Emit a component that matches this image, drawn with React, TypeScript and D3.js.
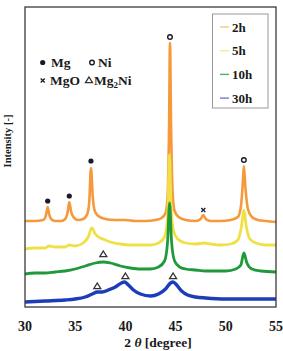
import React from "react";
import * as d3 from "d3";

// 2θ [degree] and relative intensity (with vertical offsets)
const orange2h: [number, number][] = [
  [30, 86], [31, 86], [31.8, 87], [32.0, 89], [32.15, 95], [32.26, 100], [32.4, 93], [32.6, 88],
  [33, 86], [33.6, 86], [34.0, 88], [34.25, 95], [34.41, 105], [34.6, 95], [34.9, 89], [35.3, 87],
  [35.8, 88], [36.2, 93], [36.4, 105], [36.57, 139], [36.75, 110], [36.95, 96], [37.3, 91], [38, 88],
  [39, 87], [40, 87], [41, 86], [42, 86], [43, 87], [43.6, 89], [44.0, 94], [44.2, 110], [44.35, 180],
  [44.44, 264], [44.55, 180], [44.7, 115], [44.9, 96], [45.3, 90], [46, 87], [47, 86], [47.5, 88],
  [47.76, 92], [48.0, 88], [48.5, 86], [49.5, 86], [50.5, 87], [51.2, 90], [51.5, 100], [51.7, 125],
  [51.8, 141], [51.95, 120], [52.2, 98], [52.6, 90], [53.2, 87], [54, 86], [55, 85],
];
const yellow5h: [number, number][] = [
  [30, 58], [31, 59], [32, 59], [32.4, 61], [33, 60], [34, 60], [34.4, 62], [35, 61], [35.8, 64],
  [36.3, 70], [36.65, 79], [37, 73], [37.5, 69], [38.0, 67], [38.5, 65], [39.5, 63], [40.5, 62],
  [41.5, 62], [42.5, 62], [43.3, 64], [43.9, 70], [44.2, 90], [44.4, 152], [44.55, 100], [44.8, 76],
  [45.2, 68], [46, 64], [47, 63], [47.8, 64], [48.5, 63], [49.5, 62], [50.5, 63], [51.2, 67],
  [51.55, 80], [51.8, 97], [52.05, 80], [52.4, 68], [53, 64], [54, 62], [55, 62],
];
const green10h: [number, number][] = [
  [30, 33], [31, 34], [32, 34], [33, 35], [34, 36], [35, 38], [36, 41], [37, 44], [37.8, 45],
  [38.5, 44], [39.5, 41], [40.5, 39], [41.5, 38], [42.5, 38], [43.3, 40], [43.9, 46], [44.2, 65],
  [44.4, 104], [44.6, 65], [44.9, 46], [45.4, 40], [46, 38], [47, 37], [48, 36], [49, 36], [50, 36],
  [51, 38], [51.5, 42], [51.8, 54], [52.1, 44], [52.6, 38], [53.5, 36], [55, 35],
];
const blue30h: [number, number][] = [
  [30, 5], [32, 6], [34, 7], [35, 8], [36, 10], [36.7, 13], [37.2, 15], [37.7, 15], [38.3, 17],
  [39.0, 20], [39.6, 24], [39.9, 25], [40.3, 22], [40.8, 17], [41.5, 13], [42.5, 11], [43.3, 13],
  [44.0, 18], [44.5, 24], [44.75, 25], [45.1, 22], [45.6, 16], [46.2, 12], [47, 10], [48, 9],
  [50, 8], [52, 8], [55, 8],
];

const seriesNames = ["2h", "5h", "10h", "30h"];
const seriesData = [orange2h, yellow5h, green10h, blue30h];
const seriesColors = ["#f5993a", "#f0e046", "#1f9a3a", "#1c3db8"];
const seriesWidths = [2.6, 2.8, 2.8, 3.4];
const legendColors = ["#f7c48a", "#f5ec8e", "#4fae66", "#6a80cf"];

const xTicks = [30, 35, 40, 45, 50, 55];

// peak annotations: [2θ, intensity, phase]
const markers: [number, number, string][] = [
  [32.26, 106, "Mg"], [34.41, 111, "Mg"], [36.57, 146, "Mg"],
  [44.44, 270, "Ni"], [51.8, 147, "Ni"],
  [47.76, 97, "MgO"],
  [37.8, 53, "Mg2Ni"], [37.2, 21, "Mg2Ni"], [40.0, 31, "Mg2Ni"], [44.75, 31, "Mg2Ni"],
];

const font = "'Liberation Serif', 'Times New Roman', serif";

function Marker({ x, y, type }: { x: number; y: number; type: string }) {
  if (type === "Mg") return <circle cx={x} cy={y} r={2.6} fill="#1a1a2a" />;
  if (type === "Ni")
    return <circle cx={x} cy={y} r={2.3} fill="white" stroke="#1a1a2a" strokeWidth={1.4} />;
  if (type === "MgO")
    return (
      <path
        d={`M${x - 2},${y - 2}L${x + 2},${y + 2}M${x - 2},${y + 2}L${x + 2},${y - 2}`}
        stroke="#1a1a2a"
        strokeWidth={1.3}
      />
    );
  return (
    <path
      d={`M${x},${y - 3}L${x + 3.5},${y + 2.6}L${x - 3.5},${y + 2.6}Z`}
      fill="white"
      stroke="#333"
      strokeWidth={1.3}
    />
  );
}

export default function App() {
  const W = 283, H = 351;
  const left = 25, right = 276, top = 7, bottom = 307;
  const x = d3.scaleLinear().domain([30, 55]).range([left, right]);
  const y = d3.scaleLinear().domain([0, 300]).range([bottom, top]);
  const line = d3
    .line<[number, number]>()
    .x((d) => x(d[0]))
    .y((d) => y(d[1]))
    .curve(d3.curveMonotoneX);

  return (
    <svg
      width={W}
      height={H}
      style={{ position: "absolute", left: 0, top: 0, background: "white" }}
      fontFamily={font}
    >
      <defs>
        <clipPath id="plotclip">
          <rect x={left} y={top} width={right - left} height={bottom - top} />
        </clipPath>
      </defs>
      <g clipPath="url(#plotclip)">
        {seriesData.map((s, i) => (
          <path
            key={seriesNames[i]}
            d={line(s) || ""}
            fill="none"
            stroke={seriesColors[i]}
            strokeWidth={seriesWidths[i]}
            strokeLinejoin="round"
          />
        ))}
      </g>
      {markers.map((m, i) => (
        <Marker key={i} x={x(m[0])} y={y(m[1])} type={m[2]} />
      ))}
      <rect
        x={left}
        y={top}
        width={right - left}
        height={bottom - top}
        fill="none"
        stroke="#3a3a3a"
        strokeWidth={1.3}
      />
      {/* phase key */}
      <g fontSize={13.5} fontWeight="bold" fill="#1a1a1a">
        <Marker x={42.7} y={62.5} type="Mg" />
        <text x={51} y={67}>Mg</text>
        <Marker x={92} y={62.5} type="Ni" />
        <text x={98} y={67}>Ni</text>
        <Marker x={42.7} y={80.5} type="MgO" />
        <text x={50} y={85}>MgO</text>
        <Marker x={89} y={80} type="Mg2Ni" />
        <text x={94} y={85}>
          Mg<tspan fontSize={9} dy={3}>2</tspan>
          <tspan dy={-3}>Ni</tspan>
        </text>
      </g>
      {/* legend */}
      <rect x={212.5} y={14} width={55.5} height={94} fill="white" stroke="#999" strokeWidth={1} />
      {seriesNames.map((n, i) => {
        const ly = 27 + i * 23.7;
        return (
          <g key={n}>
            <line x1={220} x2={229} y1={ly} y2={ly} stroke={legendColors[i]} strokeWidth={1.4} />
            <text x={232} y={ly + 4.5} fontSize={13} fontWeight="bold" fill="#1a1a1a">
              {n}
            </text>
          </g>
        );
      })}
      {/* x tick labels */}
      {xTicks.map((t) => (
        <text
          key={t}
          x={x(t)}
          y={330.5}
          textAnchor="middle"
          fontSize={14}
          fontWeight="bold"
          fill="#1a1a1a"
        >
          {t}
        </text>
      ))}
      <text x={158} y={346.5} textAnchor="middle" fontSize={13.5} fontWeight="bold" fill="#1a1a1a">
        2 <tspan fontStyle="italic">θ</tspan> [degree]
      </text>
      <text
        transform="translate(10.5,141) rotate(-90)"
        textAnchor="middle"
        fontSize={10.5}
        fontWeight="bold"
        fill="#1a1a1a"
      >
        Intensity [-]
      </text>
    </svg>
  );
}
